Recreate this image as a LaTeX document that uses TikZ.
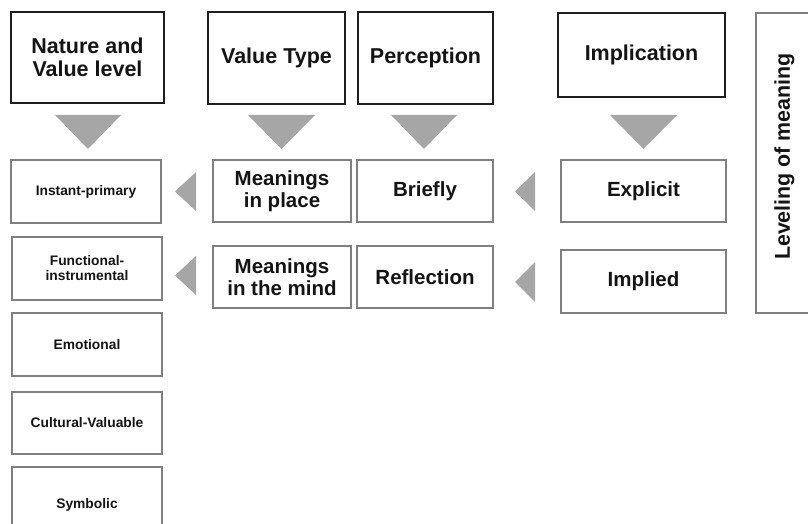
\documentclass[tikz,border=0pt]{standalone}
\usepackage{fontspec}
\setmainfont{Liberation Sans}
\definecolor{tri}{RGB}{166,166,166}
\definecolor{thinline}{RGB}{128,128,128}
\definecolor{thickline}{RGB}{30,30,30}
\definecolor{txt}{RGB}{20,20,20}
\begin{document}
\begin{tikzpicture}[x=1pt,y=-1pt,
  every node/.style={inner sep=0pt,outer sep=0pt,align=center,text=txt},
  headbox/.style={draw=thickline,line width=2.6pt,fill=white,font=\bfseries\fontsize{21.5}{23.5}\selectfont},
  midbox/.style={draw=thinline,line width=1.1pt,fill=white,font=\bfseries\fontsize{20.5}{22}\selectfont},
  smallbox/.style={draw=thinline,line width=1.1pt,fill=white,font=\bfseries\fontsize{13.8}{15}\selectfont},
  levtext/.style={rotate=90,font=\bfseries\fontsize{21.4}{23}\selectfont},
  tri/.style={fill=tri,draw=none}
]
\useasboundingbox (0,0) rectangle (808,524);
\clip (0,0) rectangle (808,524);
% headers
\node[headbox,minimum width=153pt,minimum height=91pt] (h1) at (87.5,57.5) {Nature and\\Value level};
\node[headbox,minimum width=137pt,minimum height=92pt] (h2) at (276.5,58) {Value Type};
\node[headbox,minimum width=135pt,minimum height=92pt] (h3) at (425.5,58) {Perception};
\node[headbox,minimum width=167pt,minimum height=84pt] (h4) at (641.5,55) {Implication};
% leveling box
\node[draw=thinline,line width=1.1pt,minimum width=57pt,minimum height=300pt] (lev) at (784.5,163) {};
\node[levtext] (levlabel) at (784.5,156.5) {Leveling of meaning};
% down triangles
\fill[tri] (55,115) -- (121,115) -- (88,149) -- cycle;
\fill[tri] (248,115) -- (315,115) -- (281.5,149) -- cycle;
\fill[tri] (391,115) -- (457,115) -- (424,149) -- cycle;
\fill[tri] (610,115) -- (677,115) -- (643.5,149) -- cycle;
% left column
\node[smallbox,minimum width=150pt,minimum height=63pt] (a1) at (86,191.5) {Instant-primary};
\node[smallbox,minimum width=150pt,minimum height=63pt] (a2) at (87,268.5) {Functional-\\instrumental};
\node[smallbox,minimum width=150pt,minimum height=63pt] (a3) at (87,344.5) {Emotional};
\node[smallbox,minimum width=150pt,minimum height=62pt] (a4) at (87,423) {Cultural-Valuable};
\node[smallbox,minimum width=150pt,minimum height=76pt] (a5) at (87,505) {Symbolic};
% middle
\node[midbox,minimum width=138pt,minimum height=62pt] (b1) at (282,191) {Meanings\\in place};
\node[midbox,minimum width=138pt,minimum height=62pt] (b2) at (282,277) {Meanings\\in the mind};
\node[midbox,minimum width=136pt,minimum height=62pt] (c1) at (425,191) {Briefly};
\node[midbox,minimum width=136pt,minimum height=62pt] (c2) at (425,277) {Reflection};
\node[midbox,minimum width=165pt,minimum height=62pt] (d1) at (643.5,191) {Explicit};
\node[midbox,minimum width=165pt,minimum height=63pt] (d2) at (643.5,281.5) {Implied};
% left-pointing triangles
\fill[tri] (196,172) -- (196,211) -- (175,191.5) -- cycle;
\fill[tri] (196,256) -- (196,295) -- (175,275.5) -- cycle;
\fill[tri] (535,172) -- (535,211) -- (515,191.5) -- cycle;
\fill[tri] (535,262) -- (535,302) -- (515,282) -- cycle;
\end{tikzpicture}
\end{document}
